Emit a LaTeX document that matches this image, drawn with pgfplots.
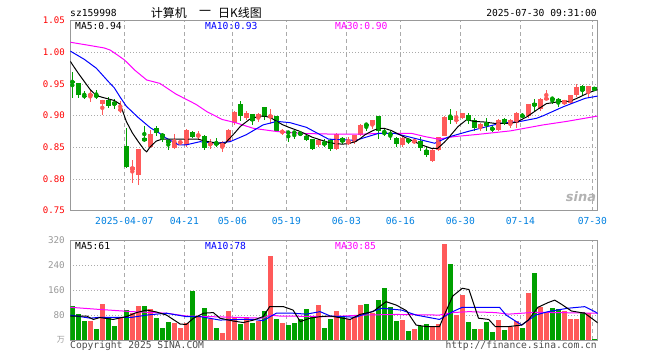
\documentclass[border=0pt]{standalone}
\usepackage{fontspec}
\setmonofont{DejaVu Sans Mono}
\newfontfamily\cjk{Noto Sans CJK SC}
\newfontfamily\djv{DejaVu Sans}
\usepackage{pgfplots}
\usepackage{pgfplotstable}
\pgfplotsset{compat=1.18}
\definecolor{cr}{HTML}{FF5A5A}
\definecolor{cg}{HTML}{00A000}
\definecolor{gridc}{HTML}{AAAAAA}
\definecolor{framec}{HTML}{999999}
\definecolor{tickred}{HTML}{FF0000}
\definecolor{tickblue}{HTML}{0080E0}
\definecolor{volgray}{HTML}{999999}
\definecolor{mag}{HTML}{FF00FF}
\newcommand\mono[1]{\ttfamily\fontsize{#1}{#1}\selectfont}

\pgfplotstableread{
i o h l c
3 0.933 0.940 0.921 0.933
5 0.919 0.924 0.901 0.924
8 0.908 0.924 0.905 0.911
10 0.815 0.830 0.794 0.819
11 0.806 0.848 0.791 0.848
13 0.850 0.877 0.849 0.871
17 0.849 0.871 0.848 0.859
18 0.858 0.861 0.854 0.858
19 0.854 0.879 0.851 0.877
21 0.869 0.876 0.861 0.869
23 0.853 0.863 0.847 0.857
25 0.850 0.860 0.842 0.858
26 0.859 0.879 0.858 0.878
27 0.888 0.908 0.886 0.906
29 0.897 0.907 0.893 0.904
31 0.897 0.904 0.890 0.902
33 0.897 0.910 0.8875 0.901
35 0.8745 0.879 0.870 0.8745
41 0.854 0.863 0.851 0.861
44 0.847 0.872 0.846 0.871
46 0.856 0.866 0.854 0.860
47 0.858 0.870 0.856 0.870
48 0.870 0.8875 0.868 0.885
50 0.885 0.893 0.879 0.893
55 0.854 0.866 0.850 0.865
57 0.857 0.8645 0.855 0.8615
60 0.829 0.8475 0.8275 0.8465
61 0.8465 0.867 0.845 0.866
62 0.868 0.8995 0.868 0.898
64 0.893 0.908 0.8865 0.893
65 0.897 0.905 0.8955 0.904
68 0.880 0.888 0.876 0.8865
71 0.8775 0.895 0.876 0.893
73 0.8865 0.894 0.880 0.893
74 0.889 0.906 0.880 0.9036
76 0.8995 0.919 0.897 0.918
78 0.910 0.928 0.908 0.927
79 0.927 0.941 0.924 0.927
82 0.919 0.9255 0.9165 0.924
83 0.920 0.933 0.918 0.932
84 0.932 0.950 0.929 0.945
86 0.9385 0.9465 0.928 0.9465
}\redtab

\pgfplotstableread{
i o h l c
0 0.954 0.9685 0.928 0.953
1 0.951 0.951 0.928 0.932
2 0.931 0.939 0.927 0.931
4 0.933 0.940 0.927 0.929
6 0.924 0.929 0.912 0.915
7 0.922 0.926 0.911 0.917
9 0.852 0.880 0.818 0.819
12 0.8646 0.883 0.859 0.860
14 0.881 0.884 0.868 0.873
15 0.871 0.872 0.858 0.867
16 0.861 0.863 0.846 0.857
20 0.874 0.876 0.865 0.866
22 0.868 0.869 0.846 0.849
24 0.857 0.864 0.850 0.854
28 0.918 0.924 0.891 0.899
30 0.903 0.903 0.885 0.891
32 0.913 0.914 0.893 0.898
34 0.8995 0.8995 0.875 0.876
36 0.8745 0.876 0.859 0.8725
37 0.874 0.876 0.863 0.873
38 0.8735 0.8745 0.868 0.870
39 0.868 0.871 0.860 0.862
40 0.863 0.863 0.846 0.847
42 0.858 0.863 0.851 0.8535
43 0.861 0.863 0.845 0.847
45 0.865 0.866 0.855 0.859
49 0.886 0.889 0.876 0.886
51 0.8995 0.8995 0.864 0.876
52 0.874 0.881 0.868 0.871
53 0.871 0.876 0.861 0.871
54 0.865 0.866 0.851 0.855
56 0.863 0.8645 0.856 0.859
58 0.860 0.866 0.844 0.849
59 0.8465 0.8515 0.8355 0.8385
63 0.8995 0.910 0.8875 0.893
66 0.9005 0.9035 0.8865 0.893
67 0.893 0.896 0.876 0.880
69 0.889 0.897 0.876 0.884
70 0.881 0.8855 0.8735 0.8775
72 0.894 0.896 0.8855 0.889
75 0.901 0.9035 0.897 0.8985
77 0.920 0.9265 0.908 0.915
80 0.928 0.929 0.919 0.926
81 0.9265 0.928 0.9135 0.921
85 0.947 0.949 0.932 0.9385
87 0.945 0.946 0.9385 0.940
}\greentab

\pgfplotstableread{
i v
3 62
5 115
8 70
10 88
11 109
13 98
17 53
18 40
19 56
21 77
23 66
25 24
26 94
27 70
29 73
31 61
33 271
35 56
41 112
44 94
46 66
47 73
48 112
50 86
55 64
57 35
60 43
61 51
62 308
64 80
65 144
68 35
71 64
73 41
74 62
76 152
78 105
79 86
82 93
83 67
84 67
86 86
}\redvol

\pgfplotstableread{
i v
0 109
1 82
2 62
4 35
6 73
7 45
9 96
12 109
14 72
15 40
16 59
20 157
22 104
24 40
28 51
30 56
32 94
34 67
36 48
37 56
38 66
39 99
40 73
42 40
43 66
45 73
49 115
51 128
52 168
53 105
54 62
56 30
58 46
59 51
63 244
66 59
67 35
69 59
70 27
72 32
75 40
77 216
80 104
81 99
85 91
87 3
}\greenvol

\pgfplotsset{
  kbase/.style={
    scale only axis, width=527.4bp,
    xmin=-0.333, xmax=87.567,
    axis line style={framec, line width=1bp},
    major tick length=0pt,
    xtick={8.667,18.667,26.667,35.667,45.667,54.667,64.667,74.667,86.667},
    xticklabels={}, yticklabels={},
    xmajorgrids, ymajorgrids,
    major x grid style={gridc, line width=1bp, dash pattern=on 4bp off 3bp},
    major y grid style={gridc, line width=1bp, dash pattern=on 1bp off 2bp},
  },
  wick/.style={#1, only marks, mark=none, error bars/.cd, y dir=both, y explicit, error mark=none, error bar style={#1, line width=1bp}},
  body/.style={#1, only marks, mark=none, error bars/.cd, y dir=both, y explicit, error mark=none, error bar style={#1, line width=5bp}},
}

\begin{document}
\begin{tikzpicture}
\path[use as bounding box] (0,0) rectangle (660bp,360bp);

% ---------- price panel ----------
\begin{axis}[kbase,
  at={(70.3bp,149.3bp)}, anchor=south west, height=190bp,
  ymin=0.75, ymax=1.05,
  ytick={0.75,0.80,0.85,0.90,0.95,1.00,1.05},
]
\addplot[wick=cr] table[x=i, y expr={(\thisrow{h}+\thisrow{l})/2}, y error expr={(\thisrow{h}-\thisrow{l})/2}] \redtab;
\addplot[body=cr] table[x=i, y expr={(\thisrow{o}+\thisrow{c})/2}, y error expr={max(abs(\thisrow{o}-\thisrow{c})/2,0.0008)}] \redtab;
\addplot[wick=cg] table[x=i, y expr={(\thisrow{h}+\thisrow{l})/2}, y error expr={(\thisrow{h}-\thisrow{l})/2}] \greentab;
\addplot[body=cg] table[x=i, y expr={(\thisrow{o}+\thisrow{c})/2}, y error expr={max(abs(\thisrow{o}-\thisrow{c})/2,0.0008)}] \greentab;
% MA30
\addplot[mag, line width=1bp, mark=none] coordinates {
(-0.33,1.016) (2.4,1.0117) (5.3,1.007) (6.3,1.0037) (7.5,0.996) (8.7,0.988) (10.4,0.972) (12.4,0.9564) (14.6,0.951) (17.3,0.934) (20.6,0.918) (22.5,0.906) (25,0.894) (27.2,0.889) (30.2,0.880) (34.1,0.875) (38,0.872) (43,0.871) (48.5,0.871) (51,0.872) (56.6,0.872) (58.8,0.867) (61,0.863) (63.7,0.867) (67.6,0.8705) (73,0.876) (78.5,0.8855) (82.4,0.891) (87.57,0.8995)};
% MA10
\addplot[blue, line width=1bp, mark=none] coordinates {
(-0.33,1.002) (2,0.989) (4,0.975) (6,0.954) (7,0.944) (8,0.929) (9,0.915) (11,0.897) (13,0.881) (14.6,0.872) (15.2,0.867) (17.7,0.854) (19,0.854) (21.3,0.859) (24,0.8565) (26.3,0.859) (29,0.870) (31.8,0.8855) (34.1,0.891) (36.3,0.889) (39,0.8817) (42.7,0.863) (47.2,0.861) (51,0.872) (53.8,0.872) (57.6,0.863) (60.4,0.8565) (62.6,0.866) (65.9,0.875) (69.2,0.883) (71.4,0.888) (74.7,0.891) (77.4,0.896) (78.5,0.900) (81.8,0.914) (85.5,0.9275) (87.57,0.931)};
% MA5
\addplot[black, line width=1bp, mark=none] coordinates {
(-0.33,0.986) (0,0.981) (1,0.967) (2,0.954) (3,0.941) (4,0.932) (5,0.929) (6,0.9265) (7,0.924) (8,0.918) (9,0.891) (10,0.873) (11,0.859) (12,0.846) (12.4,0.843) (13,0.851) (14,0.860) (15,0.863) (17,0.863) (19,0.863) (21,0.863) (22,0.860) (24,0.857) (25.5,0.8565) (26,0.862) (27,0.872) (28,0.883) (29.5,0.894) (31,0.899) (32,0.8995) (33,0.897) (35,0.886) (36,0.882) (38,0.875) (40,0.866) (41.3,0.862) (43,0.857) (45,0.855) (46,0.856) (47.2,0.859) (48,0.864) (48.8,0.870) (50,0.876) (51,0.880) (52,0.880) (53.2,0.8765) (55.4,0.866) (57,0.859) (58.2,0.854) (59.8,0.8485) (60.9,0.8485) (62,0.858) (62.6,0.864) (64.3,0.883) (65.7,0.8935) (67,0.891) (68.7,0.890) (70.3,0.888) (73,0.888) (74.1,0.890) (75.8,0.8985) (77.4,0.909) (79,0.919) (81,0.922) (83,0.923) (84,0.927) (86,0.936) (87,0.9395) (87.57,0.941)};
\end{axis}

% ---------- volume panel ----------
\begin{axis}[kbase,
  at={(70.3bp,20bp)}, anchor=south west, height=99.7bp,
  ymin=0, ymax=320,
  ytick={80,160,240,320},
]
\addplot[ycomb, cr, line width=5bp, mark=none] table[x=i, y=v] \redvol;
\addplot[ycomb, cg, line width=5bp, mark=none] table[x=i, y=v] \greenvol;
\addplot[mag, line width=1bp, mark=none] coordinates {
(-0.33,105) (4.6,98) (10,91) (15.7,86) (19,77) (26.8,73) (31.8,70) (32.9,80) (34.5,77) (43,75) (48.4,80) (54,82) (61.2,80) (63.4,88) (66.1,91) (70.5,88) (72.7,83) (77.2,89) (87.57,86)};
\addplot[blue, line width=1bp, mark=none] coordinates {
(-0.33,80) (3,70) (4.6,73) (10,73) (12.4,80) (15.7,86) (19,75) (21.3,75) (24.6,64) (28,66) (30.2,66) (31.8,62) (34,86) (36.8,86) (39,83) (41.3,91) (43,77) (47.2,73) (51.6,102) (54.9,96) (57.3,80) (61.2,66) (63.4,91) (65,105) (71.2,105) (72.3,80) (74.9,48) (77.2,80) (79.3,91) (82.6,102) (85.4,107) (87.1,91) (87.57,85)};
\addplot[black, line width=1bp, mark=none] coordinates {
(-0.33,77) (2.4,77) (3.5,66) (4.6,72) (6.8,66) (9,75) (10.7,88) (12.4,96) (14,90) (15.7,80) (18,51) (19,50) (20.2,70) (21.9,86) (23.5,88) (24.6,70) (26.8,61) (28.5,56) (30.2,64) (31.8,75) (32.9,107) (35.2,107) (36.8,96) (38,59) (39.6,70) (41.3,75) (43,77) (46.3,66) (47.9,82) (50.1,91) (52.3,123) (54,112) (55.7,94) (57.3,48) (59,43) (61.2,43) (62,80) (63.4,141) (65,166) (66.1,162) (67.7,70) (69.4,66) (70.5,43) (72.7,43) (74.9,48) (76,64) (77.6,105) (79.3,120) (80.4,128) (81.5,115) (83.2,93) (85.4,86) (87.1,62) (87.57,55)};
\end{axis}

% ---------- texts ----------
\begin{scope}[every node/.style={inner sep=0pt}]
\foreach \v/\y in {0.75/149.3,0.80/181,0.85/212.6,0.90/244.3,0.95/276,1.00/307.6,1.05/339.3}
  \node[anchor=east] at (65bp,\y bp) {\color{tickred}\mono{9.1}\v};
\foreach \v/\y in {80/45,160/69.9,240/94.8,320/119.7}
  \node[anchor=east] at (65bp,\y bp) {\color{volgray}\mono{9.3}\v};
\foreach \d/\x in {2025-04-07/124.3,04-21/184.3,05-06/232.3,05-19/286.3,06-03/346.3,06-16/400.3,06-30/460.3,07-14/520.3,07-30/592.3}
  \node at (\x bp,139bp) {\color{tickblue}\mono{9.7}\d};
\node[anchor=west] at (70bp,346.7bp) {\mono{9.7}sz159998};
\node[anchor=west] at (150.7bp,347bp) {\cjk\fontsize{12}{12}\selectfont 计算机};
\node[anchor=center] at (205bp,347bp) {\cjk\fontsize{12}{12}\selectfont 一};
\node[anchor=west] at (218bp,347bp) {\cjk\fontsize{12}{12}\selectfont 日K线图};
\node[anchor=east] at (597bp,347.3bp) {\mono{9.7}2025-07-30 09:31:00};
\node[anchor=west] at (75bp,334bp) {\mono{9.7}MA5:0.94};
\node[anchor=west] at (205bp,334bp) {\color{blue}\mono{9.7}MA10:0.93};
\node[anchor=west] at (335bp,334bp) {\color{mag}\mono{9.7}MA30:0.90};
\node[anchor=west] at (75bp,114bp) {\mono{9.7}MA5:61};
\node[anchor=west] at (205bp,114bp) {\color{blue}\mono{9.7}MA10:78};
\node[anchor=west] at (335bp,114bp) {\color{mag}\mono{9.7}MA30:85};
\node[anchor=west] at (70bp,14bp) {\color{black!70}\mono{9.7}Copyright 2025 SINA.COM};
\node[anchor=east] at (597bp,14bp) {\color{black!70}\mono{9.7}http://finance.sina.com.cn};
\node[anchor=east] at (65bp,20bp) {\color{volgray}\cjk\fontsize{8}{8}\selectfont 万};
\node at (581bp,163bp) {\color{black!30}\djv\bfseries\itshape\fontsize{13}{13}\selectfont sina};
\end{scope}
\end{tikzpicture}
\end{document}
